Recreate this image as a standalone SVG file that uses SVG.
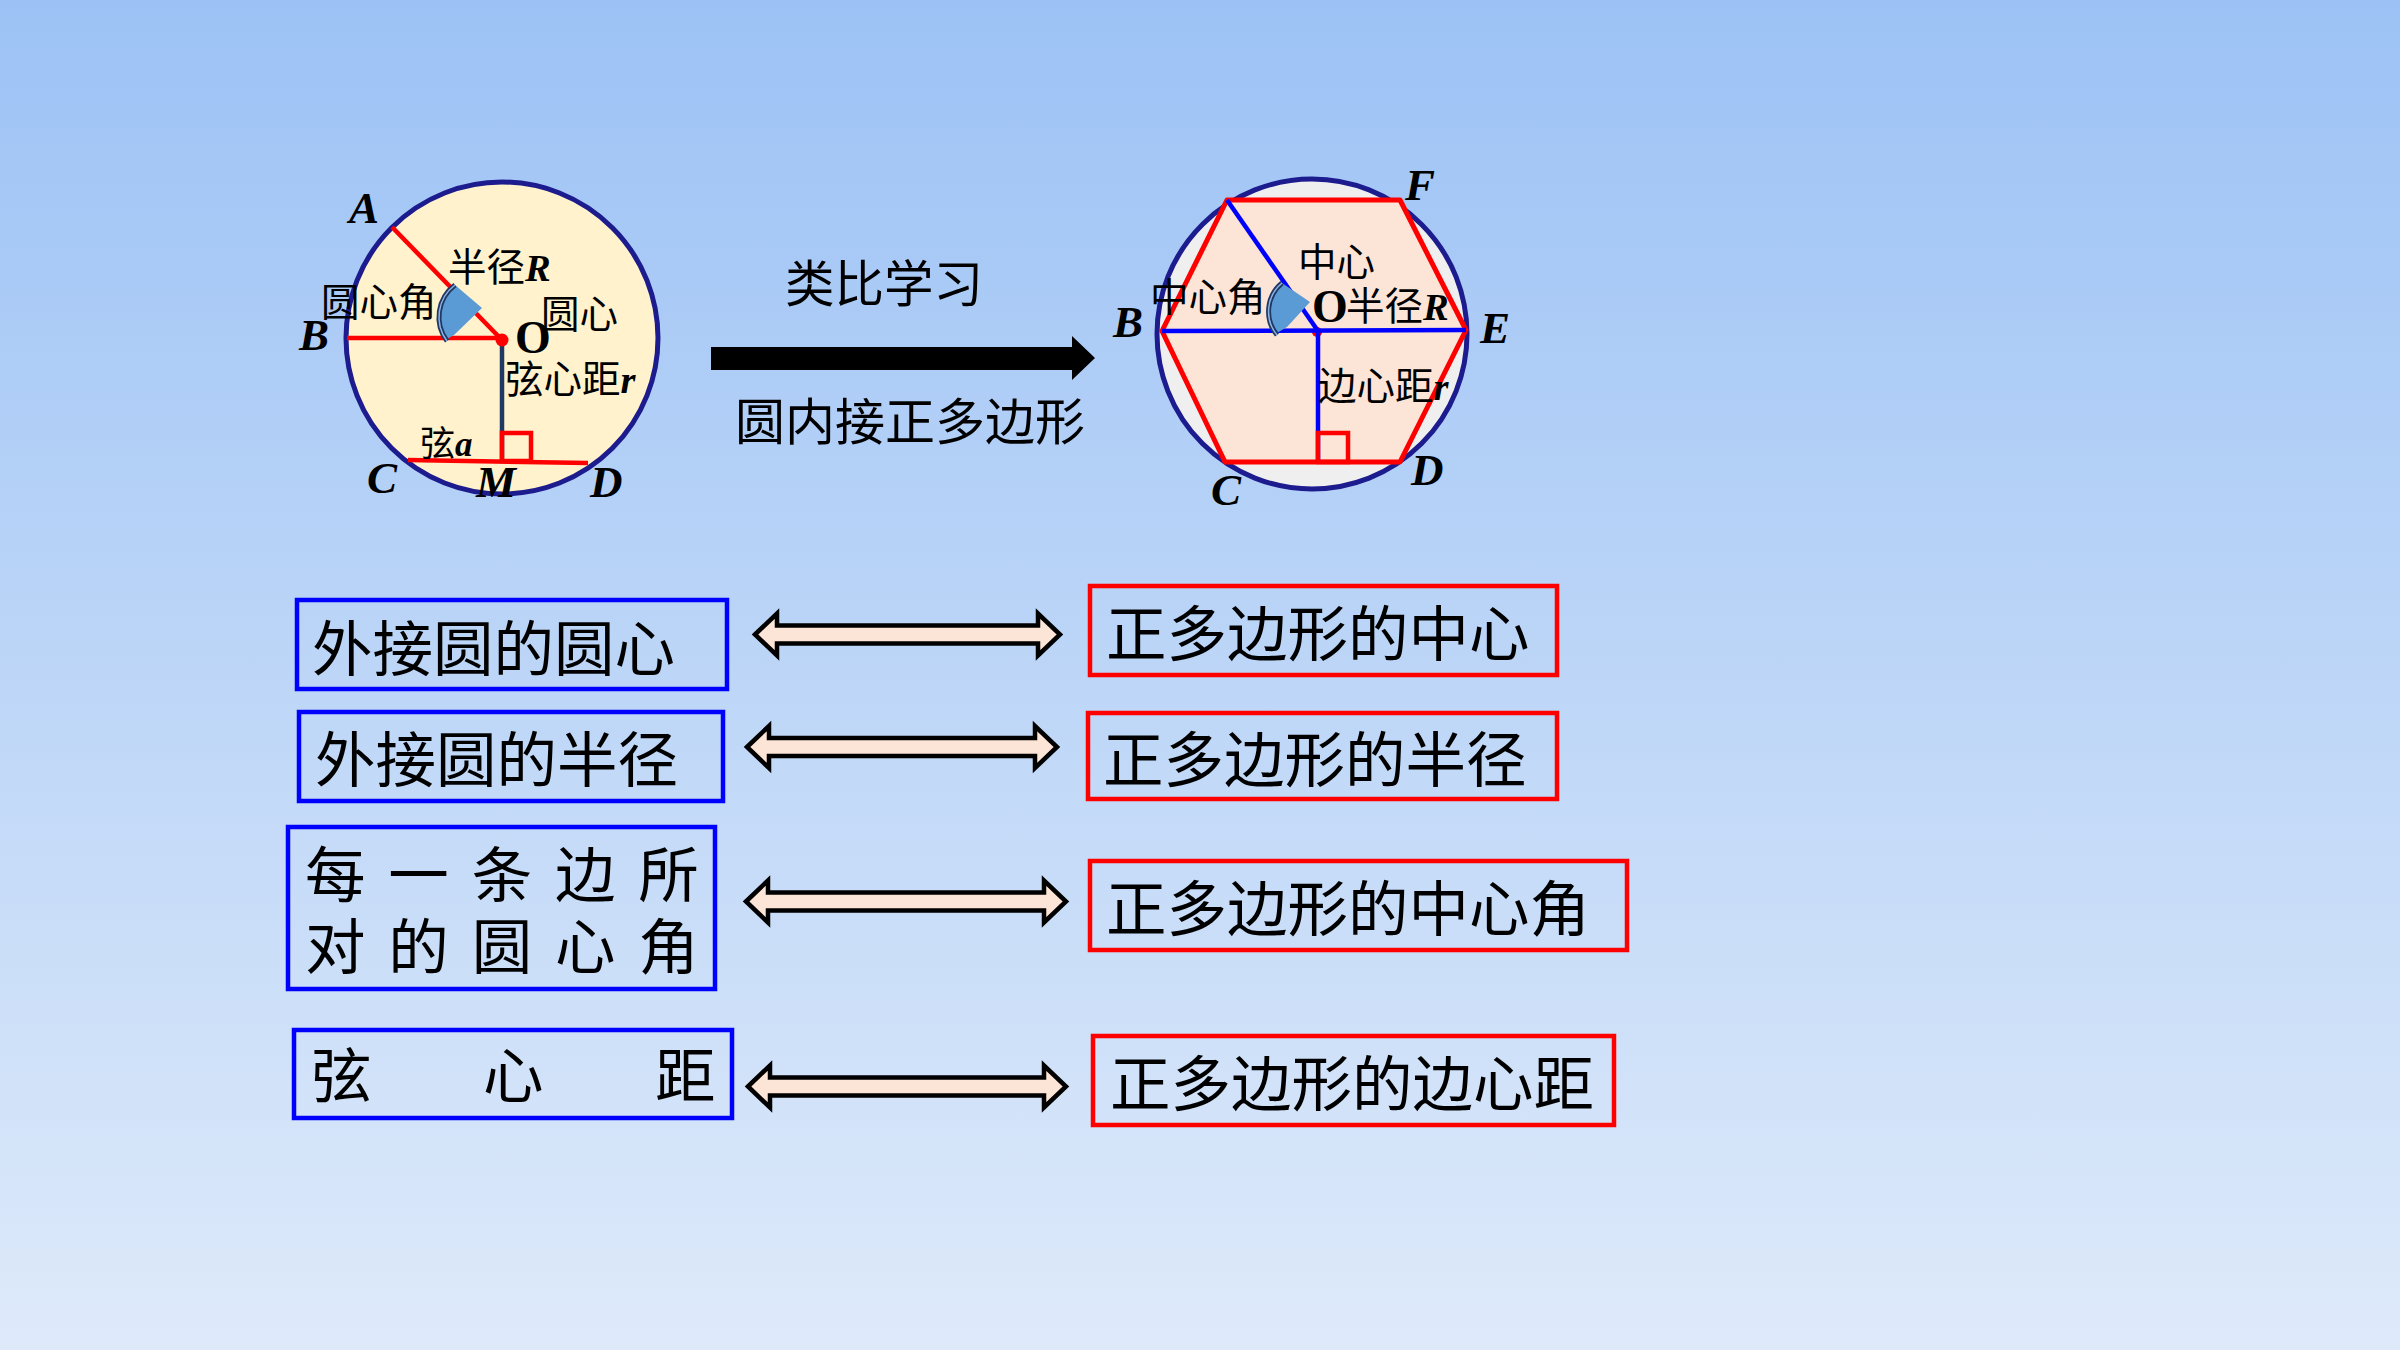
<svg xmlns="http://www.w3.org/2000/svg" width="2400" height="1350" viewBox="0 0 2400 1350">
<defs>
<linearGradient id="bg" x1="0" y1="0" x2="0" y2="1">
<stop offset="0" stop-color="#9CC2F5"/>
<stop offset="1" stop-color="#DEEAFA"/>
</linearGradient>
</defs>
<style>
.cjk{font-family:"Noto Sans CJK SC","Noto Sans",sans-serif;fill:#000}
.big{font-size:60.5px}
.mid{font-size:50px}
.sm{font-size:38.5px}
.lat{font-family:"Liberation Serif","Times New Roman",serif;font-weight:bold;font-style:italic;fill:#000}
.lbl{font-size:45px}
.ital{font-family:"Liberation Serif","Times New Roman",serif;font-weight:bold;font-style:italic}
.oo{font-family:"Liberation Serif","Times New Roman",serif;font-weight:bold;font-size:46px;fill:#000}
.red{stroke:#FF0000;stroke-width:4.5;fill:none}
.navy{stroke:#1F3864;stroke-width:4.5;fill:none}
.blu{stroke:#0000FF;stroke-width:4.5;fill:none}
.bbox{stroke:#0000FF;stroke-width:4.5;fill:none}
.rbox{stroke:#FF0000;stroke-width:4.5;fill:none}
.dbl{fill:#FCE4D6;stroke:#000;stroke-width:4.5;stroke-linejoin:miter}
.wedge{fill:#5B9BD5}
.warc{fill:none;stroke:#1F3864;stroke-width:5}
.warc2{fill:none;stroke:#8DB4E2;stroke-width:1.5}
</style>
<rect x="0" y="0" width="2400" height="1350" fill="url(#bg)"/>

<g id="circle-figure">
<circle cx="502" cy="338" r="156" fill="#FFF2CC" stroke="#1C1C8E" stroke-width="5"/>
<line class="red" x1="392" y1="227" x2="502" y2="340"/>
<line class="red" x1="347" y1="338" x2="502" y2="338"/>
<line class="red" x1="408" y1="460" x2="588" y2="463"/>
<line class="navy" x1="502" y1="340" x2="502" y2="461"/>
<rect class="red" x="502" y="433" width="29" height="28"/>
<path class="wedge" d="M455,285 L482,308 L454,335 L447,339 A40 40 0 0 1 455,285 Z"/>
<path class="warc" d="M447,341 A40 40 0 0 1 455,285"/>
<path class="warc2" d="M447,341 A40 40 0 0 1 455,285"/>
<circle cx="502" cy="340" r="6.5" fill="#FF0000"/>
<text class="lat lbl" x="349" y="223">A</text>
<text class="lat lbl" x="299" y="350">B</text>
<text class="lat lbl" x="367" y="493">C</text>
<text class="lat lbl" x="476" y="497">M</text>
<text class="lat lbl" x="590" y="497">D</text>
<text class="oo" x="515" y="353">O</text>
<text class="cjk sm" x="448" y="281">半径<tspan class="ital">R</tspan></text>
<text class="cjk sm" x="321" y="316">圆心角</text>
<text class="cjk sm" x="541" y="328">圆心</text>
<text class="cjk sm" x="505" y="393">弦心距<tspan class="ital">r</tspan></text>
<text class="cjk" style="font-size:35px" x="420" y="456">弦<tspan class="ital">a</tspan></text>
</g>

<g id="analogy-label">
<text class="cjk" style="font-size:49.5px" x="785" y="302">类比学习</text>
<text class="cjk mid" x="735" y="440">圆内接正多边形</text>
</g>

<g id="hexagon-figure">
<circle cx="1312" cy="334" r="155" fill="#EFEFEF" stroke="#1C1C8E" stroke-width="5"/>
<polygon points="1227,200 1400,200 1466,330 1400,462 1225,462 1162,331" fill="#FCE4D6" stroke="#FF0000" stroke-width="5" stroke-linejoin="round"/>
<circle cx="1317" cy="332" r="5" fill="#FF0000"/>
<line class="blu" x1="1227" y1="200" x2="1318" y2="331"/>
<line class="blu" x1="1162" y1="331" x2="1466" y2="330"/>
<line class="blu" x1="1318" y1="331" x2="1318" y2="462"/>
<rect class="red" x="1318" y="433" width="30" height="29"/>
<path class="wedge" d="M1282,283 L1310,302 L1287,327 L1277,333 A37 37 0 0 1 1282,283 Z"/>
<path class="warc" d="M1277,335 A37 37 0 0 1 1282,283"/>
<path class="warc2" d="M1277,335 A37 37 0 0 1 1282,283"/>
<text class="lat lbl" x="1405" y="200">F</text>
<text class="lat lbl" x="1113" y="337">B</text>
<text class="lat lbl" x="1480" y="343">E</text>
<text class="lat lbl" x="1411" y="485">D</text>
<text class="lat lbl" x="1211" y="505">C</text>
<text class="oo" x="1312" y="322">O</text>
<text class="cjk sm" x="1298" y="276">中心</text>
<text class="cjk sm" x="1150" y="311">中心角</text>
<text class="cjk sm" x="1346" y="320">半径<tspan class="ital">R</tspan></text>
<text class="cjk sm" x="1318" y="400">边心距<tspan class="ital">r</tspan></text>
</g>

<g id="connectors">
<path fill="#000" d="M711,347 H1072 V336 L1095,358 L1072,380 V370 H711 Z"/>
<path class="dbl" d="M755,634.5 L777,613.5 V625.5 H1038 V613.5 L1060,634.5 L1038,655.5 V643.5 H777 V655.5 Z"/>
<path class="dbl" d="M747,747 L769,726 V738 H1035 V726 L1057,747 L1035,768 V756 H769 V768 Z"/>
<path class="dbl" d="M746,901.5 L768,880.5 V892.5 H1044 V880.5 L1066,901.5 L1044,922.5 V910.5 H768 V922.5 Z"/>
<path class="dbl" d="M748,1086.5 L770,1065.5 V1077.5 H1044 V1065.5 L1066,1086.5 L1044,1107.5 V1095.5 H770 V1107.5 Z"/>
</g>

<g id="box-circumcenter">
<rect class="bbox" x="297" y="600" width="430" height="89"/>
<text class="cjk big" x="312" y="671">外接圆的圆心</text>
</g>
<g id="box-circumradius">
<rect class="bbox" x="299" y="712" width="424" height="89"/>
<text class="cjk big" x="315" y="782">外接圆的半径</text>
</g>
<g id="box-central-angle">
<rect class="bbox" x="288" y="827" width="427" height="162"/>
<text class="cjk big" x="305 388.3 471.7 555 638.3" y="897">每一条边所</text>
<text class="cjk big" x="305 388.3 471.7 555 638.3" y="969">对的圆心角</text>
</g>
<g id="box-chord-distance">
<rect class="bbox" x="294" y="1030" width="438" height="88"/>
<text class="cjk big" x="311 483 655" y="1098">弦心距</text>
</g>

<g id="rbox-center">
<rect class="rbox" x="1090" y="586" width="467" height="89"/>
<text class="cjk big" x="1106" y="656">正多边形的中心</text>
</g>
<g id="rbox-radius">
<rect class="rbox" x="1088" y="713" width="469" height="86"/>
<text class="cjk big" x="1103" y="782">正多边形的半径</text>
</g>
<g id="rbox-central-angle">
<rect class="rbox" x="1090" y="861" width="537" height="89"/>
<text class="cjk big" x="1106" y="931">正多边形的中心角</text>
</g>
<g id="rbox-apothem">
<rect class="rbox" x="1093" y="1036" width="521" height="89"/>
<text class="cjk big" x="1110" y="1106">正多边形的边心距</text>
</g>
</svg>
